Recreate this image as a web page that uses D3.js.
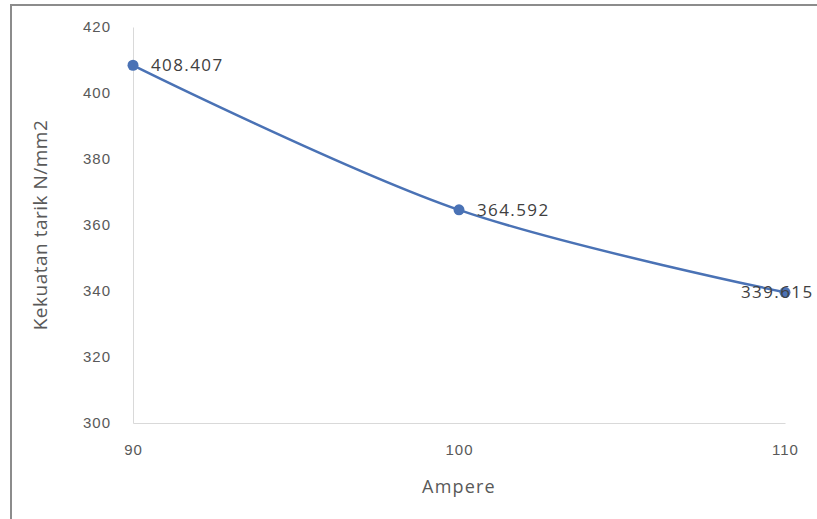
<!DOCTYPE html>
<html>
<head>
<meta charset="utf-8">
<script src="https://cdn.jsdelivr.net/npm/d3@7"></script>
<style>
body { margin: 0; background: #fff; overflow: hidden; }
svg { display: block; font-family: "Open Sans", "Noto Sans", sans-serif; }
</style>
</head>
<body>
<div id="graphContainer"></div>
<script>
var amperes = [90, 100, 110];
var strength = [408.407, 364.592, 339.615];
var labels = ["408.407", "364.592", "339.615"];
var yTicks = [300, 320, 340, 360, 380, 400, 420];
var xTicks = [90, 100, 110];

window.onload = function()
{
	DrawChart();
}

function DrawChart()
{
	var width = 817, height = 519;
	var left = 133, right = 785, top = 27, bottom = 423;

	var svg = d3.select("#graphContainer").append("svg")
		.attr("width", width)
		.attr("height", height);

	/* frame */
	svg.append("path")
		.attr("d", "M11,519 V5 H817")
		.attr("fill", "none")
		.attr("stroke", "#8c8c8c")
		.attr("stroke-width", 2);

	var x = d3.scaleLinear().domain([90, 110]).range([left, right]);
	var y = d3.scaleLinear().domain([300, 420]).range([bottom, top]);

	/* axes */
	var xAxis = d3.axisBottom(x).tickValues(xTicks).tickSize(0).tickPadding(21);
	var gx = svg.append("g")
		.attr("transform", `translate(0, ${bottom})`)
		.call(xAxis);
	gx.select(".domain").attr("stroke", "#d9d9d9");
	gx.selectAll("text").attr("fill", "#595959")
		.style("font-size", "15px").style("letter-spacing", "1px");

	var yAxis = d3.axisLeft(y).tickValues(yTicks).tickSize(0).tickPadding(22);
	var gy = svg.append("g")
		.attr("transform", `translate(${left}, 0)`)
		.call(yAxis);
	gy.select(".domain").attr("stroke", "#d9d9d9");
	gy.selectAll("text").attr("fill", "#595959")
		.style("font-size", "15px").style("letter-spacing", "1px");

	/* axis titles */
	svg.append("text")
		.attr("x", (left + right) / 2)
		.attr("y", 493)
		.attr("text-anchor", "middle")
		.attr("fill", "#595959")
		.style("font-size", "18px")
		.style("letter-spacing", "1.2px")
		.text("Ampere");

	svg.append("text")
		.attr("transform", `translate(47, ${(top + bottom) / 2}) rotate(-90)`)
		.attr("text-anchor", "middle")
		.attr("fill", "#595959")
		.style("font-size", "19px")
		.style("letter-spacing", "0.5px")
		.text("Kekuatan tarik N/mm2");

	var data = amperes.map(function(a, i) { return {a: a, v: strength[i], label: labels[i]}; });

	var line = d3.line()
		.x(function(d) { return x(d.a); })
		.y(function(d) { return y(d.v); })
		.curve(d3.curveCatmullRom.alpha(0.5));

	svg.append("path")
		.datum(data)
		.attr("d", line)
		.attr("fill", "none")
		.attr("stroke", "#4a72b5")
		.attr("stroke-width", 2.5);

	svg.selectAll(".pt")
		.data(data).enter()
		.append("circle")
		.attr("class", "pt")
		.attr("cx", function(d) { return x(d.a); })
		.attr("cy", function(d) { return y(d.v); })
		.attr("r", 5.5)
		.attr("fill", "#4a72b5");

	svg.selectAll(".lbl")
		.data(data).enter()
		.append("text")
		.attr("class", "lbl")
		.attr("x", function(d, i) { return x(d.a) + (i == data.length - 1 ? -44 : 18); })
		.attr("y", function(d) { return y(d.v) + 6; })
		.attr("fill", "#404040")
		.style("font-size", "17px")
		.style("letter-spacing", "1.4px")
		.text(function(d) { return d.label; });
}
</script>
</body>
</html>
